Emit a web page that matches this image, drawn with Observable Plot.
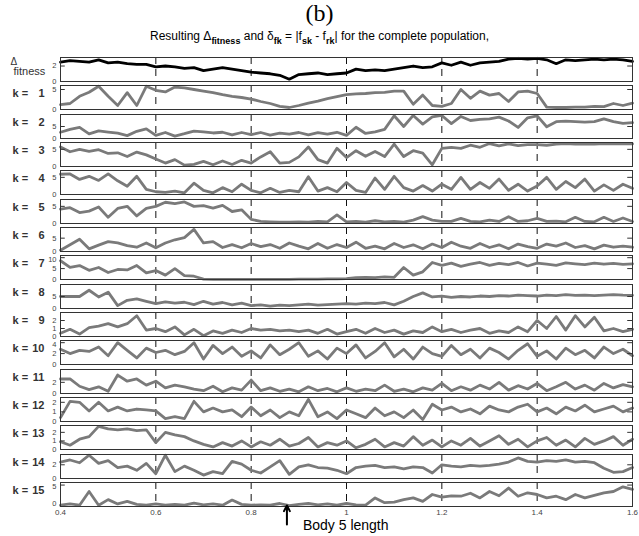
<!DOCTYPE html>
<html>
<head>
<meta charset="utf-8">
<script src="https://cdn.jsdelivr.net/npm/d3@7"></script>
<script src="https://cdn.jsdelivr.net/npm/@observablehq/plot@0.6"></script>
<style>
  body { margin: 0; background: #fff; }
  #chart { position: relative; width: 639px; height: 536px; overflow: hidden; background: #fff; }
  #title { position: absolute; left: 0; top: 0; width: 639px; text-align: center;
           font: 24px "Liberation Serif", "Times New Roman", serif; line-height: 26px; }
  #subtitle { position: absolute; left: 0; top: 29px; width: 639px; text-align: center;
              font: 12px "Liberation Sans", Arial, sans-serif; line-height: 14px; }
  #subtitle sub { font-size: 9px; font-weight: bold; position: relative; top: 1px; vertical-align: sub; line-height: 0; }
  #panels { position: absolute; left: 0; top: 56px; }
  #panels svg { display: block; }
  #note { position: absolute; left: 0; top: 500px; }
  #note svg { display: block; }
</style>
</head>
<body>
<div id="chart">
  <div id="title">(b)</div>
  <div id="subtitle">Resulting &Delta;<sub>fitness</sub> and &delta;<sub>fk</sub> = |f<sub>sk</sub> - f<sub>rk</sub>| for the complete population,</div>
  <div id="panels"></div>
  <div id="note"></div>
</div>
<script>
// Sample grid along the body-length axis
const xStart = 0.4, xEnd = 1.6, xStep = 0.02;
const xTicks = [0.4, 0.6, 0.8, 1, 1.2, 1.4, 1.6];
const gridLines = [0.6, 0.8, 1, 1.2, 1.4];
const bodyLength = 0.875;
const bodyLabel = "Body 5 length";

// Panel labels, y-axis upper limits and tick values
const panelLabels = ["fitness", "1", "2", "3", "4", "5", "6", "7", "8", "9", "10", "11", "12", "13", "14", "15"];
const yMax = [3.1, 6, 10, 7, 7, 7, 9, 11, 10, 3, 4.4, 4.3, 2.5, 2.8, 3.5, 5.6];
const yTicks = [[0, 2], [0, 5], [0, 5], [0, 5], [0, 5], [0, 5], [0, 5], [0, 5, 10], [0, 5],
                [0, 1, 2], [0, 2, 4], [0, 2], [0, 1, 2], [0, 1, 2], [0, 2], [0, 5]];

// Δfitness and δfk series, one value per grid step
const fitness = [2.5,2.7,2.6,2.5,2.8,2.4,2.5,2.3,2.2,2.2, 1.9,2.0,1.9,1.7,1.8,1.4,1.6,1.8,1.6,1.4, 1.2,1.1,1.0,0.8,0.3,0.9,1.0,1.1,0.9,1.0, 1.1,1.6,1.4,1.5,1.4,1.6,1.8,2.0,1.8,1.9, 2.4,2.1,2.5,2.1,2.4,2.5,2.6,2.9,3.0,2.9, 3.0,2.8,2.3,2.8,2.7,2.8,2.9,2.8,2.9,2.8, 2.6];
const k1 = [1.2,1.5,3.3,4.3,5.8,3.3,1.0,4.2,1.0,5.8, 4.8,4.4,5.6,5.4,5.0,4.6,4.2,3.7,3.3,3.0, 2.6,2.0,1.5,0.8,0.5,1.0,1.6,2.1,2.7,3.2, 3.7,3.9,4.0,4.2,4.3,4.6,4.6,1.3,3.6,1.0, 0.8,1.5,5.0,2.8,4.6,3.6,4.0,2.0,4.4,4.6, 4.0,0.6,0.5,0.5,0.6,0.6,0.8,0.7,1.5,1.0, 1.6];
const k2 = [2.6,3.8,4.6,1.9,3.2,2.7,2.2,1.2,3.0,4.0, 1.3,2.5,1.0,2.0,3.1,2.8,2.3,2.6,1.5,2.5, 1.6,2.5,1.4,2.2,1.8,2.5,1.5,2.4,1.8,2.6, 1.3,4.7,2.1,2.8,3.8,9.5,5.0,9.6,6.0,9.0, 9.6,6.2,9.2,7.5,8.0,8.2,8.9,7.3,4.6,8.6, 9.4,4.9,7.0,7.2,7.0,6.8,7.0,8.2,7.0,6.3, 6.6];
const k3 = [5.7,4.3,5.0,4.4,4.9,3.8,4.0,2.9,4.2,3.4, 2.2,1.0,2.0,0.4,0.6,1.5,0.5,1.6,0.6,1.8, 1.0,2.8,4.3,1.0,1.2,2.8,5.7,2.0,1.0,5.3, 2.6,4.6,3.0,4.4,2.9,6.5,2.9,4.6,3.9,0.5, 5.3,5.6,5.3,6.2,5.6,6.7,6.0,6.6,6.1,6.4, 6.4,6.2,6.5,6.7,6.5,6.6,6.5,6.7,6.6,6.7, 6.6];
const k4 = [5.9,6.0,4.4,5.3,4.1,6.0,4.0,2.4,5.3,1.5, 0.8,0.6,1.0,0.5,3.3,1.2,0.5,2.0,0.8,3.0, 1.2,0.5,1.8,0.6,1.2,0.8,5.2,1.0,2.0,0.8, 3.5,1.2,0.6,4.8,1.5,5.3,2.0,1.0,2.6,1.0, 3.0,1.5,5.0,1.5,3.5,1.8,4.5,1.2,3.0,1.0, 2.5,5.0,1.5,3.8,2.0,4.5,1.0,2.8,1.2,3.0, 1.8];
const k5 = [4.2,4.6,3.2,3.6,4.8,1.8,4.4,5.0,2.2,4.4, 5.0,6.2,5.8,6.3,5.0,5.2,4.5,5.3,3.5,4.0, 1.2,0.6,0.5,0.4,0.4,0.5,0.4,0.6,0.5,2.5, 0.5,0.6,0.4,0.8,0.5,0.6,0.4,1.0,2.0,1.0, 0.6,0.6,1.5,0.6,0.5,1.0,0.6,2.0,0.6,0.8, 1.5,0.6,0.7,0.5,1.8,0.6,0.5,1.8,0.6,1.6, 0.6];
const k6 = [0.5,2.5,4.6,1.0,2.4,3.7,3.2,2.2,1.6,3.2, 1.4,3.2,4.4,5.2,8.3,3.2,3.7,1.5,2.6,1.4, 3.0,1.8,2.6,1.2,3.2,2.0,1.0,3.0,1.2,2.6, 1.5,3.5,1.2,2.0,1.0,3.0,1.5,2.5,1.0,2.8, 1.5,3.5,2.0,1.2,3.0,1.5,2.5,1.0,2.8,1.8, 1.2,2.8,2.0,3.2,1.5,2.2,1.0,2.4,1.6,2.0, 1.6];
const k7 = [8.6,5.6,6.4,4.2,5.5,3.2,4.6,4.4,6.4,3.0, 4.1,2.0,5.0,1.8,1.5,0.2,0.1,0.1,0.1,0.1, 0.1,0.1,0.1,0.1,0.1,0.2,0.2,0.2,0.3,0.3, 0.4,0.9,1.0,0.9,1.2,1.0,5.5,2.0,3.5,7.8, 6.5,7.5,6.0,7.0,7.8,6.5,7.4,6.8,7.8,6.2, 7.5,7.0,6.5,7.6,7.2,6.8,7.5,7.0,7.4,6.9, 7.2];
const k8 = [5.0,5.0,5.0,7.6,4.8,6.8,1.2,3.4,4.0,3.0, 2.0,2.8,2.2,2.6,1.6,3.0,1.8,2.5,1.5,2.2, 1.2,1.5,1.0,1.4,1.2,1.5,1.8,1.4,1.6,1.8, 2.0,1.8,2.2,2.0,2.5,1.5,3.0,5.0,6.5,4.8, 5.2,4.6,5.0,4.8,5.2,5.0,5.4,5.2,5.6,5.4, 5.2,5.6,5.4,5.8,5.5,5.6,5.4,5.6,5.8,5.6, 5.5];
const k9 = [0.4,0.9,0.3,1.1,1.3,1.6,1.2,1.6,2.6,0.8, 1.0,0.6,1.2,0.2,0.9,0.1,0.7,0.4,0.8,0.5, 1.0,0.8,0.9,0.7,0.8,0.6,0.8,0.4,0.9,0.3, 0.6,0.9,0.4,1.0,0.5,0.8,0.3,0.7,0.5,1.2, 0.6,0.9,0.5,0.8,1.0,0.4,0.7,0.5,1.2,0.6, 2.0,1.0,2.5,0.8,2.6,1.2,2.4,0.7,1.0,0.6, 0.9];
const k10 = [2.8,2.0,2.6,2.4,3.2,1.6,4.0,2.6,1.2,3.0, 2.2,2.6,1.8,2.4,4.0,1.0,3.5,2.0,3.2,1.5, 2.5,1.2,3.6,1.8,2.8,4.0,1.5,2.5,1.0,3.0, 2.0,3.6,1.2,2.4,4.0,1.4,2.8,1.0,3.2,2.0, 1.5,3.5,1.8,2.8,1.2,3.0,2.2,1.0,2.6,3.8, 1.5,2.5,1.0,3.0,1.8,2.6,1.2,3.2,2.0,2.8, 1.6];
const k11 = [2.6,2.6,1.3,0.7,1.2,0.4,3.3,2.2,2.6,1.5, 2.2,1.0,1.5,1.2,0.8,0.5,1.3,0.3,1.0,0.6, 2.4,0.5,1.0,0.4,0.8,0.3,1.2,0.5,0.9,0.3, 1.0,0.4,0.8,0.5,1.5,0.4,0.8,0.3,1.0,0.6, 1.8,0.5,1.2,0.6,1.5,0.8,2.0,0.6,1.4,0.8, 1.8,0.5,1.2,2.0,0.8,1.5,0.6,1.8,1.0,1.6, 1.2];
const k12 = [0.4,2.1,2.0,1.1,2.0,1.1,1.5,1.1,1.3,1.2, 1.1,0.3,0.5,0.3,2.1,1.0,1.4,1.0,1.2,0.5, 1.5,0.6,1.2,0.4,1.0,0.6,2.3,0.5,1.0,0.3, 1.2,0.8,0.4,1.4,0.6,1.0,0.4,1.2,0.2,1.8, 1.2,1.5,1.0,1.3,0.8,1.6,1.2,1.0,1.5,1.8, 1.0,1.4,0.8,1.5,1.1,1.7,1.0,1.3,1.6,1.0, 1.4];
const k13 = [0.9,0.5,1.2,1.5,2.7,2.4,2.3,2.4,2.2,2.3, 0.8,2.0,1.7,1.5,1.0,0.6,0.3,0.8,0.4,1.0, 0.3,0.9,0.5,1.2,0.4,0.7,1.4,0.3,0.8,0.5, 1.0,0.2,0.6,1.2,0.3,0.8,0.4,1.5,0.5,1.1, 0.3,1.0,0.5,1.3,0.4,1.0,1.6,0.6,1.2,0.3, 1.0,1.4,0.5,1.1,0.3,1.3,0.6,1.0,1.5,0.5, 1.2];
const k14 = [2.4,2.7,2.3,3.4,2.2,2.6,1.6,1.8,1.2,2.2, 0.7,3.4,1.0,1.8,1.2,0.5,1.0,0.7,2.5,2.1, 1.2,0.8,1.7,2.6,0.6,1.7,2.0,1.6,1.5,1.2, 0.7,1.6,1.8,1.9,1.6,1.7,1.4,1.7,1.6,0.8, 2.0,1.8,1.7,1.9,1.8,1.9,2.1,2.4,3.0,2.5, 2.4,2.6,2.5,2.7,2.4,2.5,2.3,1.5,0.9,1.0, 1.6];
const k15 = [0.3,0.6,0.3,3.5,0.3,1.6,0.6,1.2,0.5,0.3, 0.6,0.3,0.5,0.3,0.8,0.4,0.6,0.3,1.5,0.5, 0.3,0.4,0.3,0.7,0.2,0.5,0.7,0.4,0.6,0.3, 0.7,0.4,0.3,2.0,0.9,1.0,1.6,2.0,1.2,2.8, 2.2,2.5,2.4,3.1,2.0,3.5,2.5,4.3,2.4,3.2, 2.8,2.0,2.4,1.6,2.8,2.0,2.6,3.2,3.5,4.6, 4.0];

const series = [fitness, k1, k2, k3, k4, k5, k6, k7, k8, k9, k10, k11, k12, k13, k14, k15];

const width = 639, marginLeft = 60, marginRight = 7;
const period = 28.33, frameHeight = 24;
const tickFont = "'Liberation Sans Narrow', 'Liberation Sans', Arial, sans-serif";
const labelFont = "'Liberation Sans', Arial, sans-serif";
const xTickLen = 0.01;

const panelsDiv = document.getElementById("panels");

series.forEach((values, i) => {
  const last = i === series.length - 1;
  const top = Math.round(i * period), next = Math.round((i + 1) * period);
  const marginTop = 1;
  const marginBottom = last ? 14 : (next - top) - marginTop - frameHeight;
  const height = marginTop + frameHeight + marginBottom;
  const rows = values.map((v, j) => ({x: +(xStart + j * xStep).toFixed(2), y: v}));
  const isFitness = i === 0;

  // tick labels sitting right at the frame top are nudged down; the bottom panel's zero label goes up
  const nearTop = t => (yMax[i] - t) / yMax[i] * frameHeight < 4;
  const zeroTick = yTicks[i].filter(t => t === 0);
  const topTicks = yTicks[i].filter(t => t !== 0 && nearTop(t));
  const midTicks = yTicks[i].filter(t => t !== 0 && !nearTop(t));

  const labelMarks = isFitness
    ? [
        Plot.text(["\u0394"], {frameAnchor: "left", dx: -50, dy: -8, textAnchor: "start", fontSize: 10, fontFamily: labelFont}),
        Plot.text([panelLabels[i]], {frameAnchor: "left", dx: -47, dy: 2, textAnchor: "start", fontSize: 11, fontFamily: labelFont})
      ]
    : [
        Plot.text(["k ="], {frameAnchor: "left", dx: -48, dy: -4, textAnchor: "start", fontSize: 11, fontWeight: "bold", fontFamily: labelFont}),
        Plot.text([panelLabels[i]], {frameAnchor: "left", dx: -16, dy: -4, textAnchor: "end", fontSize: 11, fontWeight: "bold", fontFamily: labelFont})
      ];

  const axisStyle = {tickSize: 0, tickPadding: 4, label: null, fill: "#444"};

  const svg = Plot.plot({
    width, height, marginLeft, marginRight, marginTop, marginBottom,
    style: {fontFamily: tickFont, fontSize: "7.5px", color: "#333", background: "transparent", overflow: "visible"},
    x: {domain: [xStart, xEnd], label: null, ...(last ? {} : {axis: null})},
    y: {domain: [0, yMax[i]], label: null},
    marks: [
      Plot.ruleX(gridLines, {stroke: "#111", strokeWidth: 1, strokeDasharray: "7,5"}),
      Plot.line(rows, {x: "x", y: "y", stroke: isFitness ? "#000" : "#7a7a7a", strokeWidth: 2.8}),
      Plot.ruleY(yTicks[i], {x1: xStart, x2: xStart + xTickLen, stroke: "#333"}),
      Plot.ruleY(yTicks[i], {x1: xEnd - xTickLen, x2: xEnd, stroke: "#333"}),
      Plot.axisY(zeroTick, {...axisStyle, dy: last ? -3 : 0}),
      Plot.axisY(midTicks, axisStyle),
      Plot.axisY(topTicks, {...axisStyle, dy: 2}),
      last ? Plot.axisX(xTicks, {tickSize: 0, tickPadding: 3, label: null, tickFormat: d => String(d), fill: "#444", fontSize: 8}) : null,
      Plot.frame({stroke: "#333", strokeWidth: 1}),
      ...labelMarks
    ]
  });
  panelsDiv.appendChild(svg);
});

// Arrow marking the body length under the last panel
const note = Plot.plot({
  width, height: 36, marginLeft, marginRight, marginTop: 5, marginBottom: 12,
  style: {background: "transparent", overflow: "visible"},
  x: {domain: [xStart, xEnd], axis: null},
  y: {domain: [0, 1], axis: null},
  marks: [
    Plot.arrow([bodyLength], {x: d => d, y1: 0, y2: 1, stroke: "#000", strokeWidth: 2, headLength: 9, headAngle: 55}),
    Plot.text([bodyLabel], {x: [bodyLength], frameAnchor: "bottom", dx: 16, dy: 5, textAnchor: "start",
                            fontSize: 14, fontFamily: labelFont, fill: "#000"})
  ]
});
document.getElementById("note").appendChild(note);
</script>
</body>
</html>
